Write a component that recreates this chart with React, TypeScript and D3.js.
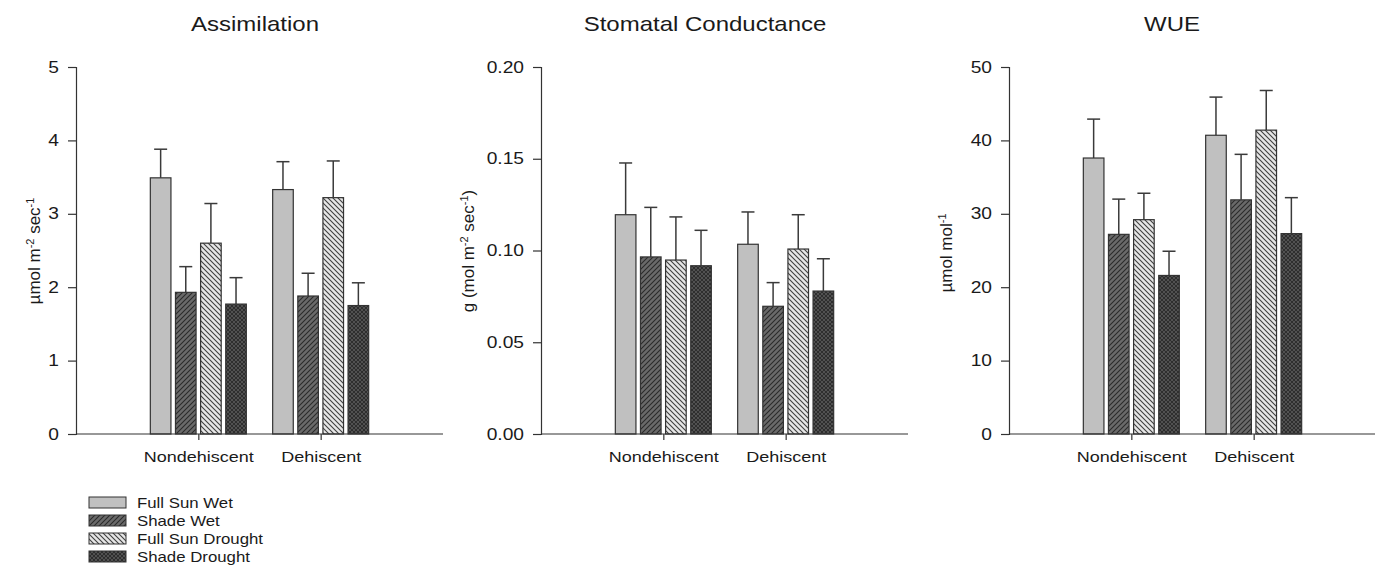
import React, { useEffect, useRef } from 'react';
import * as d3 from 'd3';

const width = 1375;
const height = 570;

const groups = ["Nondehiscent", "Dehiscent"];
const treatments = ["Full Sun Wet", "Shade Wet", "Full Sun Drought", "Shade Drought"];

// means and upper error bar tops, per group, in treatment order
const assimMean = [[3.49, 1.93, 2.60, 1.77], [3.33, 1.88, 3.22, 1.75]];
const assimErr = [[3.88, 2.28, 3.14, 2.13], [3.71, 2.19, 3.72, 2.06]];
const condMean = [[0.1195, 0.0965, 0.0948, 0.0917], [0.1034, 0.0696, 0.1008, 0.0779]];
const condErr = [[0.1477, 0.1235, 0.1183, 0.111], [0.121, 0.0825, 0.1195, 0.0955]];
const wueMean = [[37.6, 27.2, 29.2, 21.6], [40.7, 31.9, 41.4, 27.3]];
const wueErr = [[42.9, 32.0, 32.8, 24.9], [45.9, 38.1, 46.8, 32.2]];

const assimTicks = [0, 1, 2, 3, 4, 5];
const condTicks = [0, 0.05, 0.1, 0.15, 0.2];
const wueTicks = [0, 10, 20, 30, 40, 50];

const fills = ["#c0c0c0", "url(#pShadeWet)", "url(#pSunDrought)", "url(#pShadeDrought)"];

const panels = [
    { title: "Assimilation", titleX: 255, left: 76, max: 5, ticks: assimTicks, fmt: d3.format("d"), mean: assimMean, err: assimErr,
      label: [["µmol m", 0], ["-2", 1], [" sec", 0], ["-1", 1]], labelX: 40, labelY: 251 },
    { title: "Stomatal Conductance", titleX: 705, left: 541, max: 0.2, ticks: condTicks, fmt: d3.format(".2f"), mean: condMean, err: condErr,
      label: [["g (mol m", 0], ["-2", 1], [" sec", 0], ["-1", 1], [")", 0]], labelX: 474, labelY: 251 },
    { title: "WUE", titleX: 1172, left: 1009, max: 50, ticks: wueTicks, fmt: d3.format("d"), mean: wueMean, err: wueErr,
      label: [["µmol mol", 0], ["-1", 1]], labelX: 952, labelY: 253 },
];

// the source picture is stretched a little sideways
const SX = 1.2;

const Chart = () => {
    const svgRef = useRef(null);

    useEffect(() => {
        const svg = d3.select(svgRef.current);
        svg.selectAll("*").remove();

        const font = "Liberation Sans, Arial, sans-serif";
        const top = 67, bottom = 434, plotW = 367;
        const axisColor = "#333";
        const textColor = "#1a1a1a";

        // patterns
        const defs = svg.append("defs");
        const p1 = defs.append("pattern").attr("id", "pShadeWet").attr("patternUnits", "userSpaceOnUse")
            .attr("width", 5).attr("height", 5);
        p1.append("rect").attr("width", 5).attr("height", 5).attr("fill", "#6a6a6a");
        p1.append("path").attr("d", "M0,5 L5,0 M-1,1 L1,-1 M4,6 L6,4").attr("stroke", "#2a2a2a").attr("stroke-width", 1.1);

        const p2 = defs.append("pattern").attr("id", "pSunDrought").attr("patternUnits", "userSpaceOnUse")
            .attr("width", 5).attr("height", 5);
        p2.append("rect").attr("width", 5).attr("height", 5).attr("fill", "#e6e6e6");
        p2.append("path").attr("d", "M0,0 L5,5 M-1,4 L1,6 M4,-1 L6,1").attr("stroke", "#404040").attr("stroke-width", 1.1);

        const p3 = defs.append("pattern").attr("id", "pShadeDrought").attr("patternUnits", "userSpaceOnUse")
            .attr("width", 4).attr("height", 4);
        p3.append("rect").attr("width", 4).attr("height", 4).attr("fill", "#2e2e2e");
        p3.append("path").attr("d", "M0,0 L4,4 M4,0 L0,4").attr("stroke", "#5a5a5a").attr("stroke-width", 0.8);

        panels.forEach(p => {
            const g = svg.append("g");
            const y = d3.scaleLinear().domain([0, p.max]).range([bottom, top]);
            const x0 = d3.scalePoint().domain(groups).range([p.left + plotW / 3, p.left + 2 * plotW / 3]);
            const x1 = d3.scaleBand().domain(treatments).range([-48, 48]).paddingInner(0.18);

            // title
            g.append("text").attr("transform", `translate(${p.titleX},31) scale(${SX},1)`).attr("text-anchor", "middle")
                .style("font-family", font).style("font-size", "20px").style("fill", textColor).text(p.title);

            // bars
            p.mean.forEach((vals, gi) => {
                const cx = x0(groups[gi]);
                vals.forEach((v, ti) => {
                    const bx = cx + x1(treatments[ti]);
                    const bw = x1.bandwidth();
                    const mid = bx + bw / 2;
                    const e = p.err[gi][ti];
                    g.append("line").attr("x1", mid).attr("x2", mid).attr("y1", y(v)).attr("y2", y(e))
                        .attr("stroke", "#3a3a3a").attr("stroke-width", 1.5);
                    g.append("line").attr("x1", mid - 6.5).attr("x2", mid + 6.5).attr("y1", y(e)).attr("y2", y(e))
                        .attr("stroke", "#3a3a3a").attr("stroke-width", 1.5);
                    g.append("rect").attr("x", bx).attr("y", y(v)).attr("width", bw).attr("height", bottom - y(v))
                        .attr("fill", fills[ti]).attr("stroke", "#333").attr("stroke-width", 1.2);
                });
            });

            // y axis
            const ya = g.append("g").attr("transform", `translate(${p.left},0)`)
                .call(d3.axisLeft(y).tickValues(p.ticks).tickFormat(p.fmt).tickSize(8));
            ya.select(".domain").attr("stroke", axisColor).attr("stroke-width", 1.2);
            ya.selectAll(".tick line").attr("stroke", axisColor).attr("stroke-width", 1.2);
            ya.selectAll(".tick text").attr("x", 0).attr("transform", `translate(-17,0) scale(${SX},1)`)
                .style("font-family", font).style("font-size", "16px").attr("fill", textColor);

            // x axis
            const xa = g.append("g").attr("transform", `translate(0,${bottom})`)
                .call(d3.axisBottom(x0).tickSize(6).tickSizeOuter(0).tickPadding(11));
            xa.select(".domain").attr("d", `M${p.left},0H${p.left + plotW}`).attr("stroke", axisColor).attr("stroke-width", 1.2);
            xa.selectAll(".tick line").attr("stroke", axisColor).attr("stroke-width", 1.2);
            xa.selectAll(".tick text").attr("transform", `scale(${SX},1)`)
                .style("font-family", font).style("font-size", "15px").attr("fill", textColor);

            // y label
            const t = g.append("text").attr("transform", `translate(${p.labelX},${p.labelY}) rotate(-90)`)
                .attr("text-anchor", "middle").style("font-family", font).style("font-size", "17px").style("fill", textColor);
            p.label.forEach(([s, sup]) => {
                t.append("tspan").text(s)
                    .attr("baseline-shift", sup ? "super" : null)
                    .style("font-size", sup ? "11px" : null);
            });
        });

        // legend
        const lg = svg.append("g");
        treatments.forEach((name, i) => {
            const yy = 497 + i * 18;
            lg.append("rect").attr("x", 89).attr("y", yy).attr("width", 37).attr("height", 11)
                .attr("fill", fills[i]).attr("stroke", "#333").attr("stroke-width", 1);
            lg.append("text").attr("transform", `translate(137,${yy + 10.5}) scale(${SX},1)`)
                .style("font-family", font).style("font-size", "14px")
                .style("fill", textColor).text(name);
        });
    }, []);

    return <svg ref={svgRef} width={width} height={height} style={{ position: "absolute", left: 0, top: 0, background: "#fff" }} />;
};

export default function App() {
    return <Chart />;
}
